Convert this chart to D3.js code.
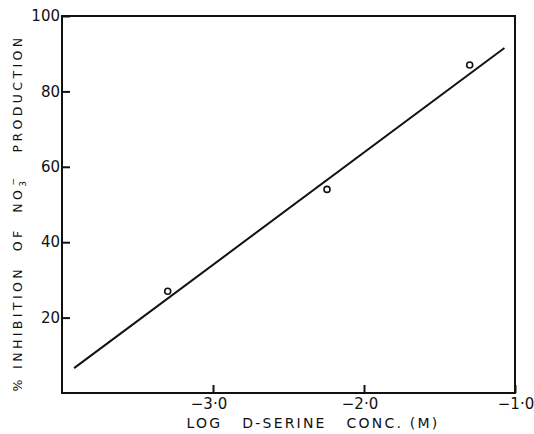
<!DOCTYPE html>
<html lang="en">
<head>
    <meta charset="UTF-8">
    <title>D-serine inhibition of nitrate production</title>
    <script src="https://cdn.jsdelivr.net/npm/d3@7"></script>
    <style>
        body { margin: 0; background: #fff; }
        text { font-family: 'DejaVu Sans', sans-serif; fill: #111; }
    </style>
</head>
<body>
    <div id="chart"></div>
    <script>
        // observed points (log conc., % inhibition)
        const logConc = [-3.30, -2.245, -1.30];
        const inhibition = [27, 54, 87];

        // fitted line at its two ends
        const fitX = [-3.92, -1.07];
        const fitY = [6.6, 91.5];

        const xTicks = [-3, -2, -1];
        const xTickLabels = ['\u22123\u00b70', '\u22122\u00b70', '\u22121\u00b70'];
        const yTicks = [20, 40, 60, 80, 100];

        const width = 534, height = 434;
        const margin = { top: 16, right: 19, bottom: 41, left: 62 };

        const svg = d3.select('#chart').append('svg')
            .attr('width', width)
            .attr('height', height);

        const x = d3.scaleLinear().domain([-4, -1]).range([margin.left, width - margin.right]);
        const y = d3.scaleLinear().domain([0, 100]).range([height - margin.bottom, margin.top]);

        // frame
        svg.append('rect')
            .attr('x', x(-4)).attr('y', y(100))
            .attr('width', x(-1) - x(-4)).attr('height', y(0) - y(100))
            .attr('fill', 'none').attr('stroke', '#111').attr('stroke-width', 2);

        // axes with inward ticks
        const xAxis = svg.append('g')
            .attr('transform', `translate(0,${y(0)})`)
            .call(d3.axisTop(x).tickValues(xTicks).tickSize(8).tickFormat(''));
        xAxis.select('.domain').remove();
        xAxis.selectAll('line').attr('stroke', '#111').attr('stroke-width', 2);

        svg.selectAll('.xlab')
            .data(xTicks)
            .enter()
            .append('text')
            .attr('class', 'xlab')
            .attr('x', d => x(d) + (d === -1 ? 1 : -4))
            .attr('y', 409)
            .attr('text-anchor', 'middle')
            .attr('font-size', 15)
            .text((d, i) => xTickLabels[i]);

        const yAxis = svg.append('g')
            .attr('transform', `translate(${x(-4)},0)`)
            .call(d3.axisRight(y).tickValues(yTicks).tickSize(8).tickFormat(''));
        yAxis.select('.domain').remove();
        yAxis.selectAll('line').attr('stroke', '#111').attr('stroke-width', 2);

        svg.selectAll('.ylab')
            .data(yTicks)
            .enter()
            .append('text')
            .attr('class', 'ylab')
            .attr('x', x(-4) - 2)
            .attr('y', d => y(d))
            .attr('dy', '0.35em')
            .attr('text-anchor', 'end')
            .attr('font-size', 15)
            .text(d => d);

        // fit line
        const line = d3.line().x(d => x(d[0])).y(d => y(d[1]));
        svg.append('path')
            .datum(d3.zip(fitX, fitY))
            .attr('d', line)
            .attr('fill', 'none')
            .attr('stroke', '#111')
            .attr('stroke-width', 2);

        // points
        svg.selectAll('.pt')
            .data(d3.zip(logConc, inhibition))
            .enter()
            .append('circle')
            .attr('class', 'pt')
            .attr('cx', d => x(d[0]))
            .attr('cy', d => y(d[1]))
            .attr('r', 3)
            .attr('fill', '#fff')
            .attr('stroke', '#111')
            .attr('stroke-width', 1.6);

        // axis titles
        svg.append('text')
            .attr('x', 313)
            .attr('y', 428)
            .attr('text-anchor', 'middle')
            .attr('font-size', 14)
            .attr('letter-spacing', 2.2)
            .attr('xml:space', 'preserve')
            .text('LOG   D-SERINE   CONC. (M)');

        const yt = svg.append('text')
            .attr('transform', 'translate(22,213) rotate(-90)')
            .attr('text-anchor', 'middle')
            .attr('font-size', 12.5)
            .attr('letter-spacing', 3.4)
            .attr('xml:space', 'preserve');
        yt.append('tspan').text('% INHIBITION  OF  NO');
        yt.append('tspan').attr('font-size', 9).attr('dy', 4).text('3');
        yt.append('tspan').attr('font-size', 9).attr('dy', -10).attr('dx', -8).text('\u2212');
        yt.append('tspan').attr('dy', 6).text('   PRODUCTION');
    </script>
</body>
</html>
